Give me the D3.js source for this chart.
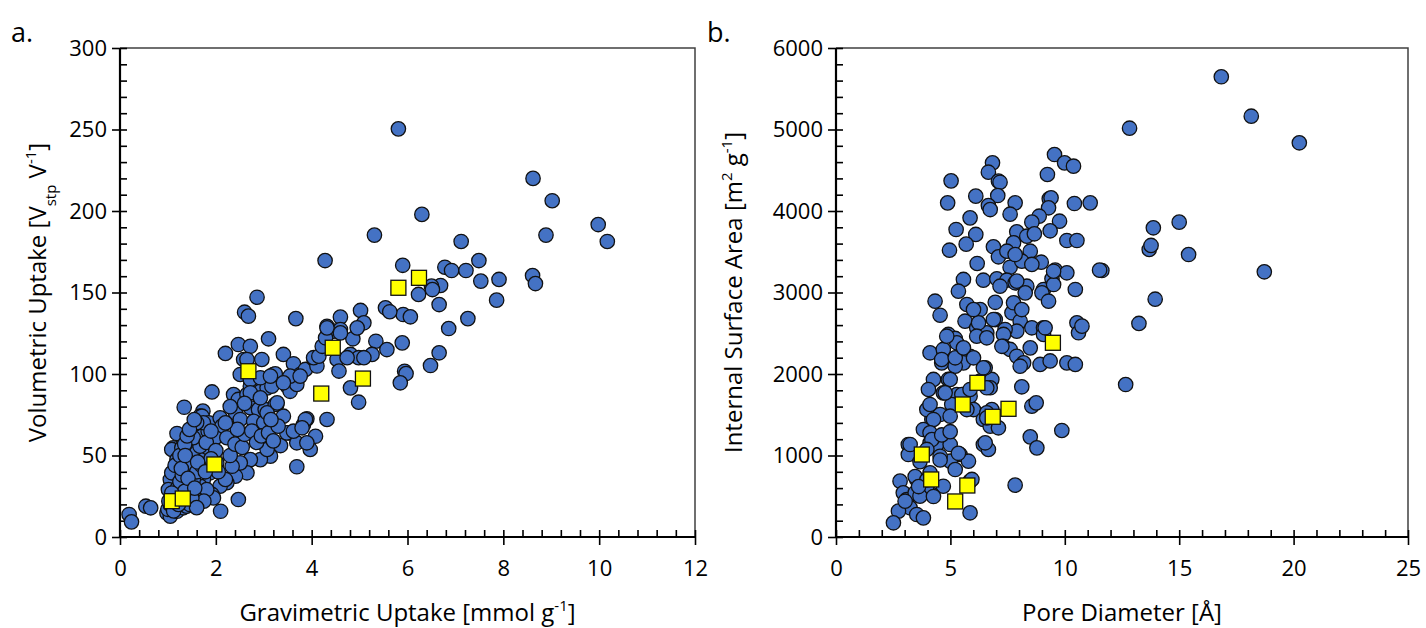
<!DOCTYPE html>
<html>
<head>
<meta charset="utf-8">
<script src="https://cdn.jsdelivr.net/npm/d3@7"></script>
<style>
  html, body { margin: 0; padding: 0; background: #fff; }
  svg { display: block; font-family: "Open Sans", "Noto Sans", sans-serif; }
</style>
</head>
<body>
<svg id="chart" width="1426" height="628"></svg>
<script>
// Panel a: gravimetric uptake (mmol/g) vs volumetric uptake (V_stp/V)
const gravVolBlue = [
  [0.19,13.8],[0.24,9.3],[0.54,18.9],[0.64,17.9],
  [5.81,250.4],[5.31,185.2],[4.28,169.6],[5.9,166.7],[6.3,197.9],
  [8.62,220],[9.02,206.3],[9.98,191.7],[10.17,181.3],[8.89,185.2],[7.12,181.3],[7.49,169.6],
  [6.78,165.5],[6.92,163.5],[7.22,163.5],[7.53,157],[7.91,158],[8.61,160.4],[8.67,155.5],[6.69,154.3],[6.5,153.9],
  [6.23,148.8],[6.66,142.6],[7.86,145.3],[5.91,136.5],[6.06,135.1],[6.86,127.9],[7.26,134],[5.89,119.1],
  [6.66,113],[6.48,105.2],[5.94,101.7],[5.97,100.3],[5.85,94.6],[6.52,151.8],
  [2.86,147.1],[2.6,137.9],[2.68,135.5],[3.67,134],[5.54,140.6],[5.63,138.2],[5.02,139],[4.6,134.9],
  [4.32,129.3],[4.46,126.3],[4.6,127.3],[5.09,131.4],[4.86,121.6],[5.34,120.1],[4.81,112],[4.98,110],
  [5.26,112],[5.57,115],[5.09,110],[4.81,91.5],[4.98,82.7],[4.32,72.1],
  [2.2,112.6],[2.47,118.1],[2.72,117],[2.58,108.9],[2.96,108.9],[3.1,121.6],[1.92,89],[1.34,79.6],
  [3.41,112],[3.62,106.3],[3.2,99.7],[3.07,96.6],[3.76,99.7],[3.87,102.8],[4.05,108.9],
  [3.52,93.6],[3.27,81.3],[3.41,74.1],[3.9,72.5],[3.83,69],[3.52,63.9],[3.69,57.8],[3.97,53.7],[4.08,61.8],
  [3.35,56.1],[3.14,49.6],[2.93,47.5],[3.69,43.1],[2.47,23],[2.1,15.8],
  [1.19,63.5],[1.11,54.7],[1.08,53.7],[1.73,77.2],[1.67,74.1],
  [1.29,54.7],[1.46,56.7],[1.64,58.8],[1.53,66],[1.71,74.1],[1.85,70.1],[2.09,73.1],[2.13,68],[1.99,60.9],[2.23,60.9],
  [2.37,87.4],[2.47,84.4],[2.65,87.4],[2.72,92.5],[2.93,89.4],[3.07,91.5],[3.17,92.5],[3.49,92.5],[3.55,89.4],[3.69,93.6],
  [2.41,76.2],[2.51,72.1],[2.72,79.3],[2.89,78.2],[3.03,78.2],[3.24,81.3],[2.79,71],[3.0,70.1],[3.07,76.2],
  [3.48,63.9],[3.62,64.9],[3.87,72.1],[3.8,67],[3.9,57.8],
  [3.07,53.7],[2.72,47.5],[2.65,39.4],[2.41,37.3],[2.51,45.5],[2.34,43.4],[2.23,33.3],[2.09,31.2],[2.2,35.3],
  [2.02,45.5],[1.88,39.4],[1.74,35.3],[1.67,31.2],[1.6,27.1],[1.92,26.1],[1.95,24],[1.81,29.1],
  [0.98,14.8],[1.05,12.8],[1.19,15.8],[1.32,17.9],[1.39,18.9],[1.46,19.9],[1.25,25],[1.11,31.2],[1.05,35.3],
  [1.01,29.1],[1.08,39.4],
  [1.32,45.5],[1.19,47.5],[1.46,48.6],[1.6,51.7],[1.39,41.4],[1.67,39.4],[1.53,35.3],[1.43,31.2],[1.74,47.5],
  [1.81,50.6],[1.84,54.7],[1.67,55.7],[1.71,61.8],[1.53,60.9],[1.84,64.9],[1.74,70.1],[1.6,70.1],
  [2.65,108.9],[2.51,99.7],[2.72,96.6],[2.93,97.7],[3.24,100.1],[3.14,98.7],[3.55,98.7],[3.41,94.6],
  [2.72,88.5],[2.93,85.4],[3.28,82.3],
  [3.76,98.7],[4.11,104.9],[4.04,110],[4.15,110.9],[4.22,117],[4.29,122.2],[4.32,128.3],[4.6,125.2],
  [4.53,108.9],[4.57,101.8],[4.74,110],[4.95,128.3],
  [1.0,17],[1.05,20],[1.1,22],[1.15,26],[1.2,30],[1.25,34],[1.3,38],[1.15,44],[1.25,50],[1.35,57],
  [1.4,62],[1.45,66],[1.55,72],[1.5,44],[1.6,40],[1.7,44],[1.8,58],[1.9,65],[2.0,53],[2.05,40],
  [1.9,48],[1.75,22],[1.5,24],[1.35,28],[1.6,18],[2.3,50],[2.4,57],[2.55,55],[2.6,63],[2.75,65],
  [2.85,58],[2.95,62],[3.1,64],[3.2,59],[2.45,66],[2.2,70],[2.3,80],[2.6,82],[3.3,68],[3.15,72],
  [1.02,22],[1.08,27],[1.12,16],[1.22,20],[1.28,42],[1.36,50],[1.42,36],[1.56,30],[1.62,46],[1.78,40]
];
const gravVolYellow = [
  [1.08,22],[1.31,23.6],[1.97,44.5],[2.68,101.7],[4.2,88],[4.44,116.1],[5.07,97.2],[5.81,152.9],[6.24,159]
];

// Panel b: pore diameter (Å) vs internal surface area (m2/g)
const poreAreaBlue = [
  [16.84,5647],[18.15,5163],[20.25,4837],[12.83,5016],[15.0,3863],[13.87,3794],[13.69,3528],[13.77,3577],
  [15.41,3466],[11.62,3270],[18.72,3254],[13.95,2918],[13.24,2620],[12.66,1871],
  [9.55,4693],[9.99,4591],[10.38,4550],[9.24,4448],[6.84,4591],[6.66,4476],[5.03,4370],[7.1,4366],[7.17,4353],
  [4.88,4100],[6.11,4182],[7.07,4190],[6.66,4067],[6.74,4018],[7.83,4100],[7.61,3961],[9.32,4150],[9.4,4162],
  [9.29,4039],[10.42,4092],[11.11,4100],
  [5.86,3916],[8.88,3936],[8.56,3863],[9.77,3875],[5.25,3773],[6.11,3712],[7.9,3745],[8.34,3691],[8.67,3720],
  [9.36,3757],[5.69,3593],[4.96,3519],[7.76,3610],[6.88,3561],[7.1,3438],[7.47,3507],[8.49,3507],[10.09,3638],[10.53,3638],
  [6.17,3356],[7.61,3310],[8.12,3384],[8.97,3372],[9.58,3274],[10.09,3242],[11.52,3274],
  [5.57,3160],[6.44,3151],[7.03,3168],[7.47,3151],[7.83,3119],[8.34,3077],[9.07,3037],[9.44,3168],[9.51,3098],[10.46,3037],
  [7.83,3466],[8.56,3344],[7.17,3077],[7.9,3139],[9.51,3261],[5.35,3016],[9.0,2996],[9.29,2893],[4.33,2893],[4.55,2721],
  [5.72,2853],[5.64,2648],[6.3,2791],[6.96,2880],[6.96,2668],[7.69,2751],[7.76,2874],[8.27,2996],[8.05,2648],
  [8.56,2567],[9.07,2567],[7.9,2525],[7.39,2546],[6.15,2567],[6.59,2506],[6.23,2628],[4.91,2485],[5.21,2436],
  [10.53,2628],[10.6,2506],
  [4.11,2260],[4.69,2301],[5.28,2383],[5.86,2218],[5.57,2137],[4.62,2137],[5.21,2096],[6.15,2464],[6.59,2444],
  [7.32,2485],[7.32,2340],[7.61,2301],[7.9,2218],[8.2,2137],[8.49,2321],[8.92,2117],[9.36,2160],[9.07,2485],[10.09,2137],
  [4.26,1933],[4.91,1933],[4.69,1769],[5.28,1748],[5.86,1728],[6.3,1912],[6.81,1933],[6.74,1831],[6.52,2076],
  [6.01,1564],[5.06,1626],[5.72,1564],
  [6.81,1564],[6.44,1442],[6.74,1360],[7.1,1340],[6.59,1524],[8.12,1843],[8.56,1605],[8.75,1646],[9.87,1307],
  [8.49,1229],[8.78,1094],[6.44,1135],[6.66,1074],
  [4.04,1810],[4.19,1442],[3.82,1319],[3.97,1564],[4.55,1503],[4.99,1482],[3.16,1135],[3.16,1012],
  [4.11,1156],[4.4,1135],[4.99,1135],[5.42,1012],[5.79,930],[4.99,930],[4.55,991],
  [5.21,828],[4.69,623],[4.19,521],[3.97,623],[3.53,706],[5.86,685],
  [2.8,685],[2.94,542],[3.09,460],[3.24,358],[3.53,276],[3.82,235],[2.73,317],[2.51,174],[3.46,542],[3.67,501],
  [5.86,297],[7.83,636],
  [6.01,2791],[8.12,2791],[6.88,2669],[9.14,2567],[10.75,2587],
  [4.84,2464],[4.62,2178],[5.21,2199],[5.57,2321],[6.01,2199],[6.44,2076],[4.99,1933],[4.77,1769],[5.5,1748],
  [5.86,1810],[6.59,1831],[7.25,2340],[8.05,2096],[10.46,2117],[6.52,1156],[6.59,1462],
  [4.11,1626],[4.26,1442],[4.11,1278],[4.19,1196],[3.97,1074],[3.24,1135],[4.62,1252],[4.99,1292],[5.35,1027],
  [4.55,945],[3.67,925],[3.46,742],[3.97,701],[3.61,619],[4.26,497],[3.02,439],[4.11,788],[5.94,706]
];
const poreAreaYellow = [
  [9.48,2383],[6.18,1892],[5.54,1626],[7.54,1573],[6.85,1475],[3.75,1012],[4.16,706],[5.74,632],[5.21,436]
];

// Axis ticks
const gravTicks = [0,2,4,6,8,10,12];
const volTicks = [0,50,100,150,200,250,300];
const poreTicks = [0,5,10,15,20,25];
const areaTicks = [0,1000,2000,3000,4000,5000,6000];

const svg = d3.select("#chart");
const BLUE = "#4472C4", YELLOW = "#FFFF00";
const TICK_FONT = 22, TITLE_FONT = 24;

function panel(cfg) {
  const x = d3.scaleLinear().domain(cfg.xDomain).range([cfg.left, cfg.right]);
  const y = d3.scaleLinear().domain(cfg.yDomain).range([cfg.bottom, cfg.top]);
  const g = svg.append("g");

  // frame (top and right sides)
  g.append("path")
    .attr("d", `M${cfg.left},${cfg.top}H${cfg.right}V${cfg.bottom}`)
    .attr("fill", "none").attr("stroke", "#404040").attr("stroke-width", 1.5);

  // minor + major inner ticks
  const xMinor = d3.range(cfg.xDomain[0], cfg.xDomain[1] + 1e-9, cfg.xMinorStep);
  const yMinor = d3.range(cfg.yDomain[0], cfg.yDomain[1] + 1e-9, cfg.yMinorStep);
  const axStyle = sel => {
    sel.select(".domain").remove();
    sel.selectAll(".tick line").attr("stroke", "#000").attr("stroke-width", 1.6);
  };
  g.append("g").attr("transform", `translate(0,${cfg.bottom})`)
    .call(d3.axisTop(x).tickValues(xMinor).tickSize(7).tickFormat(""))
    .call(axStyle);
  g.append("g").attr("transform", `translate(${cfg.left},0)`)
    .call(d3.axisRight(y).tickValues(yMinor).tickSize(7).tickFormat(""))
    .call(axStyle);

  // major outer ticks with labels
  const xa = g.append("g").attr("transform", `translate(0,${cfg.bottom})`)
    .call(d3.axisBottom(x).tickValues(cfg.xTicks).tickSize(8).tickPadding(15).tickFormat(d3.format("d")))
    .call(axStyle);
  xa.selectAll("text").attr("font-size", TICK_FONT).attr("fill", "#000")
    .attr("font-family", "'Open Sans', sans-serif");
  const ya = g.append("g").attr("transform", `translate(${cfg.left},0)`)
    .call(d3.axisLeft(y).tickValues(cfg.yTicks).tickSize(8).tickPadding(5).tickFormat(d3.format("d")))
    .call(axStyle);
  ya.selectAll("text").attr("font-size", TICK_FONT).attr("fill", "#000")
    .attr("font-family", "'Open Sans', sans-serif");

  // main axis lines
  g.append("path")
    .attr("d", `M${cfg.left},${cfg.top}V${cfg.bottom}H${cfg.right}`)
    .attr("fill", "none").attr("stroke", "#000").attr("stroke-width", 2.2);

  // points
  g.append("g").selectAll("circle").data(cfg.blue).join("circle")
    .attr("cx", d => x(d[0])).attr("cy", d => y(d[1])).attr("r", 7.2)
    .attr("fill", BLUE).attr("stroke", "#111").attr("stroke-width", 1.3);
  const s = 15;
  g.append("g").selectAll("rect").data(cfg.yellow).join("rect")
    .attr("x", d => x(d[0]) - s / 2).attr("y", d => y(d[1]) - s / 2)
    .attr("width", s).attr("height", s)
    .attr("fill", YELLOW).attr("stroke", "#111").attr("stroke-width", 1.3);

  // panel letter
  svg.append("text").attr("x", cfg.letterX).attr("y", 42)
    .attr("font-size", 27).text(cfg.letter);

  // x title
  const xt = svg.append("text").attr("x", (cfg.left + cfg.right) / 2).attr("y", 621)
    .attr("text-anchor", "middle").attr("font-size", TITLE_FONT);
  cfg.xTitle(xt);

  // y title
  const yt = svg.append("text")
    .attr("transform", `translate(${cfg.yTitleX},${(cfg.top + cfg.bottom) / 2}) rotate(-90)`)
    .attr("text-anchor", "middle").attr("font-size", TITLE_FONT);
  cfg.yTitle(yt);
}

function sup(t, s) { t.append("tspan").attr("baseline-shift", "super").attr("font-size", 15).text(s); }
function sub(t, s) { t.append("tspan").attr("baseline-shift", "sub").attr("font-size", 15).text(s); }

panel({
  left: 120, right: 695, top: 48, bottom: 537,
  xDomain: [0, 12], yDomain: [0, 300], xTicks: gravTicks, yTicks: volTicks,
  xMinorStep: 0.4, yMinorStep: 10,
  blue: gravVolBlue, yellow: gravVolYellow,
  letter: "a.", letterX: 11, yTitleX: 46,
  xTitle: t => { t.append("tspan").text("Gravimetric Uptake [mmol g"); sup(t, "-1"); t.append("tspan").text("]"); },
  yTitle: t => { t.append("tspan").text("Volumetric Uptake [V"); sub(t, "stp"); t.append("tspan").text(" V"); sup(t, "-1"); t.append("tspan").text("]"); }
});

panel({
  left: 836, right: 1408, top: 48, bottom: 537,
  xDomain: [0, 25], yDomain: [0, 6000], xTicks: poreTicks, yTicks: areaTicks,
  xMinorStep: 1, yMinorStep: 200,
  blue: poreAreaBlue, yellow: poreAreaYellow,
  letter: "b.", letterX: 707, yTitleX: 742,
  xTitle: t => { t.append("tspan").text("Pore Diameter [Å]"); },
  yTitle: t => { t.append("tspan").text("Internal Surface Area [m"); sup(t, "2"); t.append("tspan").text("  g"); sup(t, "-1"); t.append("tspan").text("]"); }
});
</script>
</body>
</html>
